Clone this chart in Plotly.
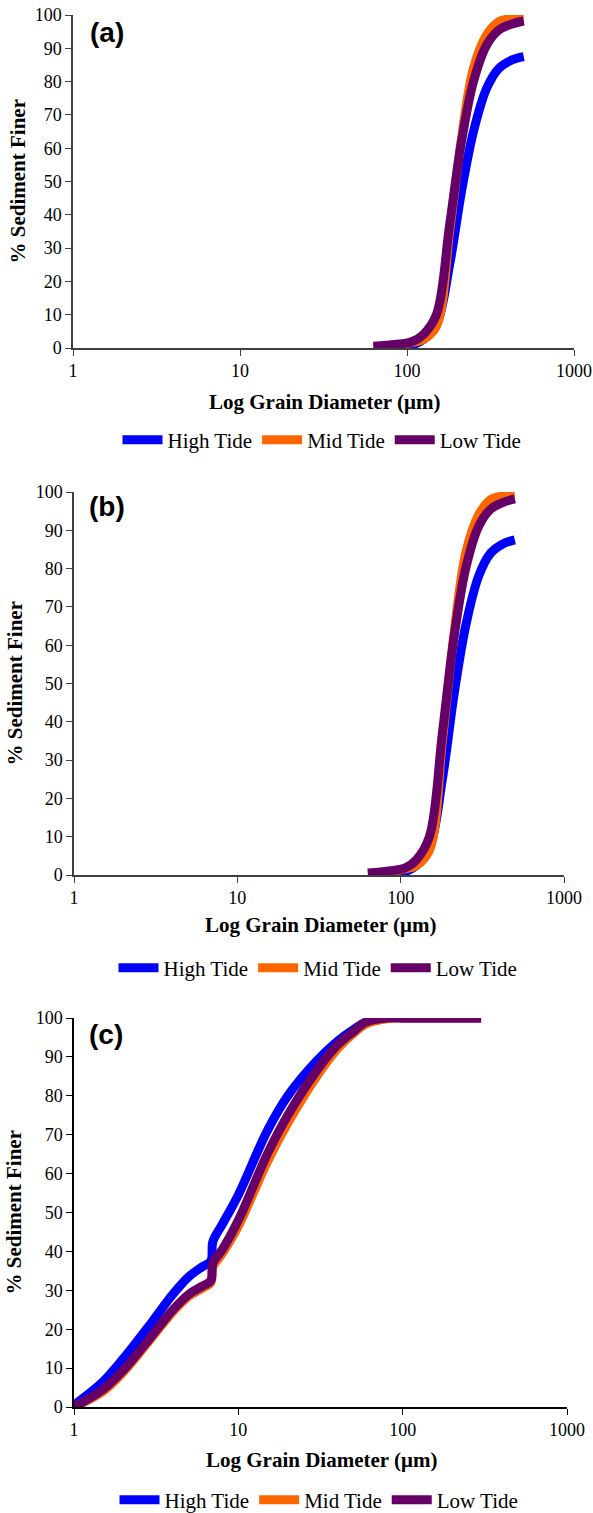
import plotly.graph_objects as go

# ---------------- data ----------------
series_names = ["High Tide", "Mid Tide", "Low Tide"]
series_colors = ["#0000FF", "#FF6600", "#660066"]

# panel (a) sieve analysis
sieve_um_a = [63, 75, 90, 106, 125, 150, 180, 212, 250, 300, 355, 425, 500]
high_a = [0, 0, 0.2, 0.8, 2.5, 7, 25, 47, 65, 78, 84, 86.5, 87.5]
mid_a = [0.3, 0.6, 1.0, 1.6, 2.5, 6.5, 35, 63, 84, 94, 98, 99, 99.3]
low_a = [0.5, 0.8, 1.2, 1.8, 4, 10, 37, 62, 80, 91, 95.5, 97.3, 98.2]

# panel (b)
sieve_um_b = [63, 75, 90, 106, 125, 150, 180, 212, 250, 300, 355, 425, 500]
high_b = [0, 0, 0.2, 0.8, 2.5, 7, 25, 47, 65, 78, 84, 86.5, 87.5]
mid_b = [0.3, 0.6, 1.0, 1.6, 2.5, 6.5, 35, 63, 84, 94, 98, 99, 99.3]
low_b = [0.5, 0.8, 1.2, 1.8, 4, 10, 37, 62, 80, 91, 95.5, 97.3, 98.2]

# panel (c)
size_um_c = [1, 1.5, 2, 3, 4, 5, 6, 6.8, 7, 8, 10, 15, 20, 30, 40, 50, 60, 80, 100, 150, 200, 300]
high_c = [0.5, 6.5, 12.5, 22, 29, 33.5, 36, 37.5, 42.5, 47, 54.5, 71, 80, 89, 94, 97, 99, 100, 100, 100, 100, 100]
mid_c = [0, 4, 9, 18, 24.5, 28.5, 30.5, 32, 36, 39.5, 46.5, 63, 73, 85, 92, 96, 98.5, 99.8, 100, 100, 100, 100]
low_c = [0, 4.5, 9.5, 18.5, 25, 29, 31, 32.5, 37, 40.5, 48, 65, 75, 86.5, 93, 96.5, 99, 100, 100, 100, 100, 100]

x_tickvals = [1, 10, 100, 1000]
x_ticktext = ["1", "10", "100", "1000"]
y_tickvals = list(range(0, 101, 10))
panel_labels = ["(a)", "(b)", "(c)"]
x_title = "Log Grain Diameter (μm)"
y_title = "% Sediment Finer"

panels = [
    (sieve_um_a, [high_a, mid_a, low_a]),
    (sieve_um_b, [high_b, mid_b, low_b]),
    (size_um_c, [high_c, mid_c, low_c]),
]

# ---------------- layout geometry (pixels) ----------------
W, H = 593, 1513
geom = [
    dict(x0=73, x1=574, yt=15, yb=348, xty=402, ly=440, xtx=324, lx=322, ytx=18, lbx=107, lby=33, ac="#404040"),
    dict(x0=74, x1=564, yt=492, yb=875, xty=925, ly=968, xtx=320, lx=318, ytx=15, lbx=107, lby=507, ac="#404040"),
    dict(x0=74, x1=567, yt=1018, yb=1407, xty=1460, ly=1500, xtx=321, lx=319, ytx=13, lbx=106, lby=1034, ac="#000000"),
]

serif = "Liberation Serif, Times New Roman, serif"
fig = go.Figure()
annotations = []
layout = dict(
    width=W, height=H,
    margin=dict(l=0, r=0, t=0, b=0, autoexpand=False),
    paper_bgcolor="white", plot_bgcolor="white",
    font=dict(family=serif, size=18, color="black"),
)

for i, ((xs, ys_list), g) in enumerate(zip(panels, geom)):
    n = "" if i == 0 else str(i + 1)
    leg = "legend" if i == 0 else f"legend{i + 1}"
    for name, color, ys in zip(series_names, series_colors, ys_list):
        fig.add_trace(go.Scatter(
            x=xs, y=ys, name=name, mode="lines",
            line=dict(color=color, width=9, shape="spline", smoothing=1.0),
            xaxis="x" + n, yaxis="y" + n, legend=leg, cliponaxis=False,
            showlegend=True,
        ))
    layout["xaxis" + n] = dict(
        type="log", range=[0, 3], domain=[g["x0"] / W, g["x1"] / W],
        anchor="y" + n, tickvals=x_tickvals, ticktext=x_ticktext,
        ticks="outside", ticklen=6, tickwidth=1, tickcolor=g["ac"],
        showline=True, linecolor=g["ac"], linewidth=1.5,
        showgrid=False, zeroline=False, automargin=False,
        tickfont=dict(family=serif, size=18, color="black"),
    )
    layout["yaxis" + n] = dict(
        range=[0, 100], domain=[1 - g["yb"] / H, 1 - g["yt"] / H],
        anchor="x" + n, tickvals=y_tickvals,
        ticks="outside", ticklen=6, tickwidth=1, tickcolor=g["ac"],
        showline=True, linecolor=g["ac"], linewidth=1.5,
        showgrid=False, zeroline=False, automargin=False,
        tickfont=dict(family=serif, size=18, color="black"),
    )
    layout[leg] = dict(
        orientation="h", x=g["lx"] / W, xanchor="center",
        y=1 - g["ly"] / H, yanchor="middle",
        font=dict(family=serif, size=21, color="black"),
        itemwidth=40, bgcolor="rgba(0,0,0,0)",
    )
    annotations.append(dict(
        text=f"<b>{x_title}</b>", x=g["xtx"] / W, y=1 - g["xty"] / H,
        xref="paper", yref="paper", showarrow=False,
        xanchor="center", yanchor="middle",
        font=dict(family=serif, size=21, color="black"),
    ))
    annotations.append(dict(
        text=f"<b>{y_title}</b>", x=g["ytx"] / W, y=1 - (g["yt"] + g["yb"]) / 2 / H,
        xref="paper", yref="paper", showarrow=False, textangle=-90,
        xanchor="center", yanchor="middle",
        font=dict(family=serif, size=21, color="black"),
    ))
    annotations.append(dict(
        text=f"<b>{panel_labels[i]}</b>", x=g["lbx"] / W, y=1 - g["lby"] / H,
        xref="paper", yref="paper", showarrow=False,
        xanchor="center", yanchor="middle",
        font=dict(family="Liberation Sans, Arial, sans-serif", size=28, color="black"),
    ))

layout["annotations"] = annotations
fig.update_layout(**layout)
fig.write_html("out.html")
